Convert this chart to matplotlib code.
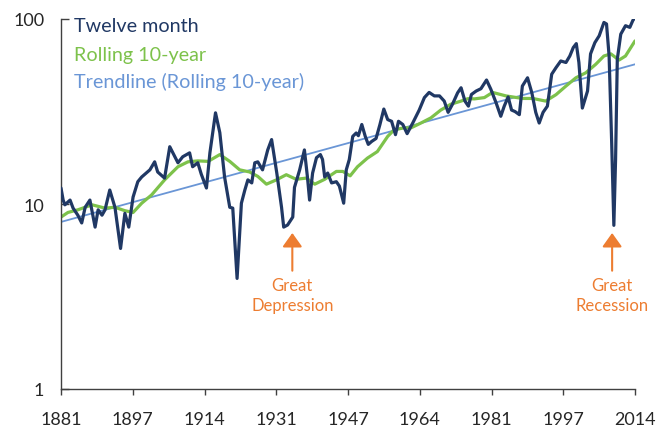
import matplotlib
matplotlib.use("Agg")
import matplotlib.pyplot as plt
from matplotlib.ticker import FixedLocator, NullLocator

# Twelve-month series (year, value)
twelve_years = [
    1881.0, 1881.5, 1881.9, 1883.1, 1883.8, 1884.9, 1885.8, 1886.6, 1887.7, 1888.9,
    1889.6, 1890.5, 1891.2, 1892.3, 1893.5, 1894.8, 1895.8, 1896.7, 1897.7, 1898.8,
    1899.7, 1901.6, 1902.7, 1903.4, 1905.0, 1906.2, 1907.4, 1908.1, 1909.2, 1910.8,
    1911.5, 1912.7, 1913.5, 1914.7, 1915.5, 1916.8, 1917.8, 1918.9, 1920.1, 1920.8,
    1921.8, 1922.8, 1923.6, 1924.3, 1925.2, 1925.9, 1926.6, 1927.7, 1928.9, 1929.8,
    1931.0, 1932.1, 1932.6, 1933.5, 1934.7, 1935.1, 1936.3, 1937.4, 1938.1, 1938.6,
    1939.3, 1940.2, 1941.1, 1941.6, 1942.1, 1942.8, 1943.7, 1944.8, 1945.5, 1946.5,
    1947.1, 1947.8, 1948.6, 1949.4, 1949.9, 1950.7, 1951.5, 1952.2, 1953.0, 1954.0,
    1954.9, 1955.8, 1956.7, 1957.6, 1958.5, 1959.2, 1960.2, 1961.2, 1962.5, 1964.0,
    1965.2, 1966.3, 1967.5, 1968.7, 1969.8, 1970.7, 1971.7, 1972.9, 1973.7, 1974.6,
    1975.4, 1976.1, 1977.2, 1978.3, 1979.6, 1980.6, 1981.8, 1982.9, 1983.7, 1984.6,
    1985.4, 1986.2, 1987.2, 1987.9, 1989.1, 1990.1, 1991.0, 1991.8, 1992.7, 1993.7,
    1994.7, 1995.7, 1996.8, 1998.0, 1998.9, 1999.7, 2000.4, 2001.0, 2001.8, 2002.4,
    2003.0, 2003.7, 2004.7, 2005.7, 2006.8, 2007.4, 2008.0, 2008.6, 2009.1, 2009.5,
    2009.9, 2010.7, 2011.8, 2012.8, 2013.5, 2014.0,
]
twelve_values = [
    12.2, 10.5, 9.9, 10.5, 9.5, 8.7, 7.9, 9.6, 10.5, 7.5,
    9.3, 8.7, 9.3, 11.9, 9.6, 5.75, 8.9, 7.5, 10.9, 13.2,
    14.0, 15.3, 16.9, 14.9, 13.8, 20.4, 18.0, 16.7, 18.0, 18.9,
    15.9, 16.7, 14.5, 12.2, 18.9, 31.1, 24.3, 14.0, 9.6, 9.5,
    3.96, 10.1, 11.9, 13.5, 13.0, 16.7, 16.9, 15.3, 19.6, 22.3,
    14.7, 9.6, 7.5, 7.7, 8.5, 12.3, 15.3, 19.6, 14.0, 10.5,
    14.7, 17.8, 18.5, 17.4, 14.0, 14.7, 13.0, 13.2, 12.5, 10.1,
    15.3, 17.4, 23.2, 24.2, 23.4, 26.9, 23.2, 21.0, 21.8, 22.6,
    26.9, 32.6, 28.6, 28.0, 23.7, 28.0, 26.9, 24.0, 27.4, 32.2,
    37.6, 40.1, 38.4, 38.4, 36.0, 31.3, 34.6, 39.9, 42.5, 36.0,
    33.8, 39.1, 40.8, 42.0, 46.8, 41.7, 35.3, 29.8, 33.8, 37.9,
    32.2, 31.6, 30.4, 43.4, 48.1, 39.9, 31.3, 27.4, 31.3, 33.8,
    50.3, 54.6, 59.3, 58.2, 63.1, 70.1, 73.6, 58.2, 33.0, 36.7,
    40.8, 64.8, 74.5, 81.1, 95.8, 94.0, 63.1, 21.3, 7.67, 17.4,
    60.6, 82.8, 92.0, 90.1, 98.2, 102.0,
]

# Rolling 10-year series
rolling_years = [
    1881.0, 1882.6, 1884.9, 1888.2, 1891.2, 1893.5, 1895.8, 1897.7, 1899.7, 1902.0,
    1905.0, 1908.1, 1910.4, 1912.7, 1915.1, 1917.8, 1920.1, 1922.4, 1924.7, 1926.6,
    1928.6, 1930.9, 1933.2, 1935.5, 1937.8, 1939.8, 1942.1, 1944.8, 1946.3, 1948.0,
    1949.7, 1952.0, 1954.3, 1956.7, 1958.2, 1960.5, 1962.1, 1964.4, 1966.7, 1969.0,
    1971.3, 1973.7, 1975.3, 1976.8, 1979.1, 1981.0, 1984.1, 1987.9, 1990.3, 1993.3,
    1995.7, 1998.0, 2000.3, 2002.6, 2004.9, 2006.8, 2008.4, 2010.3, 2011.8, 2014.0,
]
rolling_values = [
    8.5, 9.0, 9.3, 9.9, 9.5, 9.6, 9.2, 9.0, 10.1, 11.2,
    13.5, 15.9, 16.9, 17.1, 17.0, 18.5, 17.0, 15.3, 14.9, 14.1,
    12.8, 13.5, 14.4, 13.6, 13.8, 12.8, 13.6, 15.0, 15.0, 14.2,
    15.9, 17.7, 19.2, 23.2, 25.2, 25.8, 25.8, 27.4, 29.2, 32.2,
    34.6, 36.0, 37.1, 37.0, 37.6, 40.1, 38.4, 37.2, 37.2, 36.0,
    39.0, 43.4, 48.1, 51.2, 56.9, 63.1, 64.8, 60.0, 63.1, 76.1,
]

# Exponential trendline of the rolling series (end points)
trend_years = [1881.0, 2014.0]
trend_values = [8.0, 56.9]

tick_years = [1881, 1897, 1914, 1931, 1947, 1964, 1981, 1997, 2014]
y_ticks = [1, 10, 100]

NAVY = "#203864"
GREEN = "#7DC24B"
BLUE = "#6A96D6"
ORANGE = "#ED7D31"
TEXT = "#262626"

plt.rcParams["font.family"] = ["Lato", "DejaVu Sans"]

fig = plt.figure(figsize=(6.59, 4.27), dpi=100)
ax = fig.add_axes([61 / 659, 1 - 390 / 427, 574 / 659, 370 / 427])

ax.plot(trend_years, trend_values, color=BLUE, lw=1.3, zorder=1)
ax.plot(rolling_years, rolling_values, color=GREEN, lw=2.3, zorder=2,
        solid_joinstyle="round", solid_capstyle="round")
ax.plot(twelve_years, twelve_values, color=NAVY, lw=2.3, zorder=3,
        solid_joinstyle="round", solid_capstyle="round")

ax.set_yscale("log")
ax.set_ylim(1, 100)
ax.set_xlim(1881, 2014)

ax.yaxis.set_major_locator(FixedLocator(y_ticks))
ax.yaxis.set_minor_locator(NullLocator())
ax.set_yticklabels([str(v) for v in y_ticks])
span = (2014 - 1881) / (len(tick_years) - 1)
ax.set_xticks([1881 + i * span for i in range(len(tick_years))])
ax.set_xticklabels([str(y) for y in tick_years])

for side in ("top", "right"):
    ax.spines[side].set_visible(False)
for side in ("left", "bottom"):
    ax.spines[side].set_color("#404040")
    ax.spines[side].set_linewidth(1.0)

ax.tick_params(axis="y", direction="in", length=6, width=1, color="#404040",
               labelsize=13, labelcolor=TEXT, pad=12)
ax.tick_params(axis="x", direction="out", length=4, width=1, color="#404040",
               labelsize=13, labelcolor=TEXT, pad=12)

# legend as coloured text
legend_items = [("Twelve month", NAVY, 0.982), ("Rolling 10-year", GREEN, 0.905),
                ("Trendline (Rolling 10-year)", BLUE, 0.833)]
for label, color, ypos in legend_items:
    ax.text(0.023, ypos, label, transform=ax.transAxes, color=color,
            fontsize=14.2, ha="left", va="center")

# event annotations
events = [("Great\nDepression", 1934.6), ("Great\nRecession", 2008.7)]
for label, year in events:
    ax.annotate("", xy=(year, 6.97), xytext=(year, 4.36),
                arrowprops=dict(arrowstyle="-|>,head_length=0.7,head_width=0.5",
                                color=ORANGE, lw=1.5, mutation_scale=12,
                                shrinkA=0, shrinkB=0))
    ax.text(year, 3.22, label, color=ORANGE, fontsize=12, ha="center",
            va="center", linespacing=1.25)

fig.savefig("out.png", dpi=100)
